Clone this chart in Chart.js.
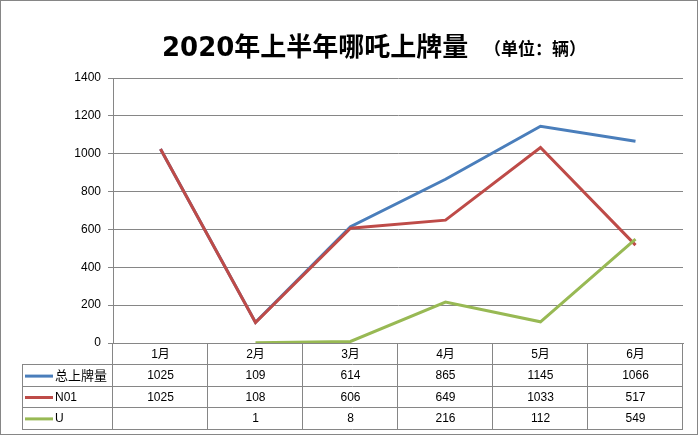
<!DOCTYPE html>
<html>
<head>
<meta charset="utf-8">
<script src="https://cdn.jsdelivr.net/npm/chart.js@4.4.0/dist/chart.umd.min.js"></script>
<style>
    html, body { margin: 0; padding: 0; background: #fff; }
    #wrap { width: 699px; height: 436px; }
</style>
</head>
<body>
<div id="wrap"><canvas id="plateChart" width="699" height="436"></canvas></div>
<script>
// 数据
const months = ['1月', '2月', '3月', '4月', '5月', '6月'];
const seriesNames = ['总上牌量', 'N01', 'U'];
const totalPlates = [1025, 109, 614, 865, 1145, 1066];
const n01Plates = [1025, 108, 606, 649, 1033, 517];
const uPlates = [null, 1, 8, 216, 112, 549];

const lineColors = ['#4a7ebb', '#be4b48', '#98b954'];
const gridColor = '#868686';
const baseFont = "'Liberation Sans', 'Noto Sans CJK SC', sans-serif";

// 标题 + 底部数据表 + 外框
const tablePlugin = {
    id: 'dataTable',
    afterDraw(chart) {
        const ctx = chart.ctx;
        const x = chart.scales.x;
        const area = chart.chartArea;
        const allSeries = [totalPlates, n01Plates, uPlates];
        const colW = (area.right - area.left) / months.length;
        const rowH = 21.4;
        const top = area.bottom;
        const tableLeft = 22;

        ctx.save();

        // 标题
        ctx.fillStyle = '#000';
        ctx.textBaseline = 'alphabetic';
        ctx.textAlign = 'left';
        ctx.font = "bold 26px 'DejaVu Sans', 'Noto Sans CJK SC', sans-serif";
        ctx.fillText('2020年上半年哪吒上牌量', 162, 56);
        ctx.font = "bold 17px 'Noto Sans CJK SC', sans-serif";
        ctx.fillText('（单位：辆）', 484, 55);

        // 表格线
        ctx.strokeStyle = gridColor;
        ctx.lineWidth = 1;
        ctx.beginPath();
        for (let r = 1; r <= 4; r++) {
            const yy = Math.round(top + rowH * r) + 0.5;
            ctx.moveTo(tableLeft, yy);
            ctx.lineTo(area.right, yy);
        }
        for (let i = 0; i <= months.length; i++) {
            const xx = Math.round(area.left + colW * i) - 0.5;
            ctx.moveTo(xx, top);
            ctx.lineTo(xx, Math.round(top + rowH * 4) + 0.5);
        }
        ctx.moveTo(tableLeft + 0.5, Math.round(top + rowH) + 0.5);
        ctx.lineTo(tableLeft + 0.5, Math.round(top + rowH * 4) + 0.5);
        ctx.stroke();

        // 表格内容
        ctx.textBaseline = 'middle';
        allSeries.forEach((vals, r) => {
            const cy = top + rowH * (r + 1.5) + 1;
            ctx.strokeStyle = lineColors[r];
            ctx.lineWidth = 3;
            ctx.beginPath();
            ctx.moveTo(25, cy);
            ctx.lineTo(53, cy);
            ctx.stroke();

            ctx.fillStyle = '#000';
            ctx.textAlign = 'left';
            ctx.font = (r === 0 ? '13px ' : '12px ') + baseFont;
            ctx.fillText(seriesNames[r], 55, cy);

            ctx.textAlign = 'center';
            ctx.font = '12px ' + baseFont;
            vals.forEach((v, i) => {
                if (v === null) return;
                ctx.fillText(String(v), x.getPixelForValue(i), cy);
            });
        });

        // 外框
        ctx.strokeStyle = gridColor;
        ctx.lineWidth = 1;
        ctx.strokeRect(0.5, 0.5, chart.width - 2, chart.height - 2);
        ctx.restore();
    }
};

const ctx = document.getElementById('plateChart').getContext('2d');
new Chart(ctx, {
    type: 'line',
    data: {
        labels: months,
        datasets: [
            { label: seriesNames[0], data: totalPlates, borderColor: lineColors[0], order: 3 },
            { label: seriesNames[1], data: n01Plates, borderColor: lineColors[1], order: 2 },
            { label: seriesNames[2], data: uPlates, borderColor: lineColors[2], order: 1 }
        ]
    },
    options: {
        responsive: false,
        devicePixelRatio: 1,
        animation: false,
        elements: {
            line: { borderWidth: 3, tension: 0, fill: false },
            point: { radius: 0, hoverRadius: 0 }
        },
        layout: { padding: { top: 78, right: 16, left: 0, bottom: 0 } },
        plugins: {
            legend: { display: false },
            tooltip: { enabled: false },
            title: { display: false }
        },
        scales: {
            x: {
                offset: true,
                grid: { display: false, drawTicks: false },
                border: { display: true, color: gridColor },
                ticks: { padding: 4, color: '#000', font: { family: baseFont, size: 12 } },
                afterFit(scale) { scale.height = 93; }
            },
            y: {
                min: 0,
                max: 1400,
                ticks: {
                    stepSize: 200,
                    padding: 7,
                    color: '#000',
                    font: { family: baseFont, size: 12 },
                    callback: v => String(v)
                },
                grid: { color: gridColor, tickLength: 5 },
                border: { color: gridColor },
                afterFit(scale) { scale.width = 113; }
            }
        }
    },
    plugins: [tablePlugin]
});
</script>
</body>
</html>
